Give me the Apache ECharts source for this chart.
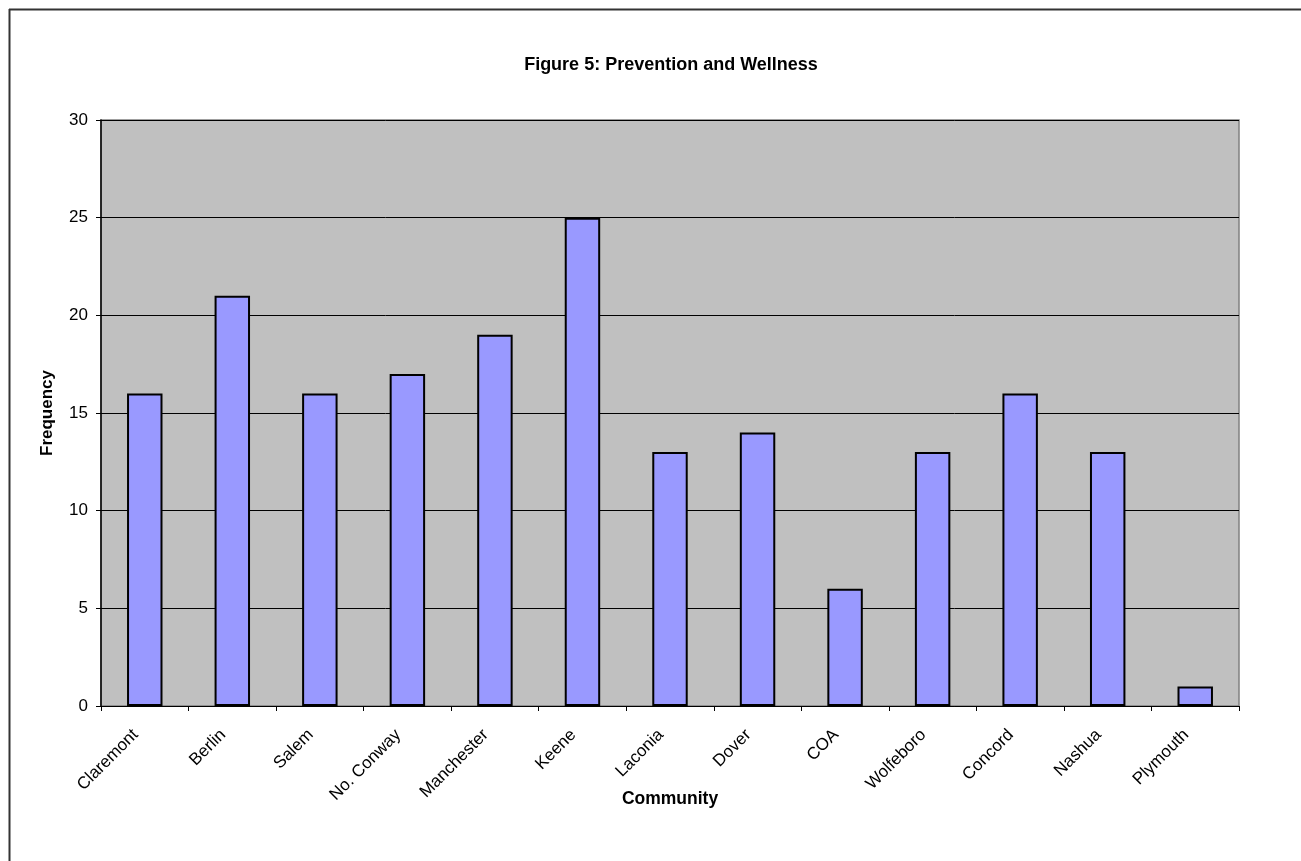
<!DOCTYPE html>
<html>
<head>
<meta charset="utf-8">
<script src="https://cdn.jsdelivr.net/npm/echarts@6/dist/echarts.min.js"></script>
<style>
  html, body { margin: 0; padding: 0; background: #ffffff; }
  #chart { width: 1301px; height: 861px; }
</style>
</head>
<body>
<div id="chart"></div>
<script>
// Communities surveyed and how often prevention/wellness came up
const communities = ['Claremont', 'Berlin', 'Salem', 'No. Conway', 'Manchester', 'Keene',
  'Laconia', 'Dover', 'COA', 'Wolfeboro', 'Concord', 'Nashua', 'Plymouth'];
const frequency = [16, 21, 16, 17, 19, 25, 13, 14, 6, 13, 16, 13, 1];
const yTicks = [0, 5, 10, 15, 20, 25, 30];

const font = '"Liberation Sans", Arial, sans-serif';
const chart = echarts.init(document.getElementById('chart'), null, { renderer: 'canvas' });

chart.setOption({
  animation: false,
  backgroundColor: '#ffffff',
  title: {
    text: 'Figure 5: Prevention and Wellness',
    left: 666,
    top: 51,
    textAlign: 'center',
    textStyle: { fontFamily: font, fontSize: 18, fontWeight: 'bold', color: '#000' }
  },
  graphic: [
    // frame around the chart area (left and top edges)
    { type: 'line', shape: { x1: 9, y1: 9.5, x2: 1301, y2: 9.5 }, style: { stroke: '#333', lineWidth: 2 } },
    { type: 'line', shape: { x1: 9.5, y1: 9, x2: 9.5, y2: 861 }, style: { stroke: '#333', lineWidth: 2 } }
  ],
  grid: {
    left: 101, top: 120, right: 62, bottom: 155,
    show: true, backgroundColor: '#C0C0C0', borderColor: '#808080', borderWidth: 1.5
  },
  xAxis: {
    type: 'category',
    data: communities,
    name: 'Community',
    nameLocation: 'middle',
    nameGap: 84,
    nameMoveOverlap: false,
    nameTextStyle: { fontFamily: font, fontSize: 17.5, fontWeight: 'bold', color: '#000' },
    axisLine: { lineStyle: { color: '#000', width: 1 } },
    axisTick: { show: true, length: 5, lineStyle: { color: '#000' } },
    axisLabel: {
      rotate: 45, fontFamily: font, fontSize: 17, color: '#000',
      margin: 17, interval: 0, padding: [0, 13, 0, 0]
    }
  },
  yAxis: {
    type: 'value',
    min: yTicks[0],
    max: yTicks[yTicks.length - 1],
    interval: 5,
    name: 'Frequency',
    nameLocation: 'middle',
    nameGap: 45,
    nameMoveOverlap: false,
    nameTextStyle: { fontFamily: font, fontSize: 17, fontWeight: 'bold', color: '#000' },
    axisLine: { show: true, lineStyle: { color: '#000', width: 1.5 } },
    axisTick: { show: true, length: 5, lineStyle: { color: '#000' } },
    axisLabel: { fontFamily: font, fontSize: 17, color: '#000', margin: 13 },
    splitLine: { show: true, lineStyle: { color: '#000', width: 1 } }
  },
  series: [{
    type: 'bar',
    data: frequency,
    barWidth: '40.5%',
    itemStyle: { color: '#9999FF', borderColor: '#000', borderWidth: 2 }
  }]
});
</script>
</body>
</html>
